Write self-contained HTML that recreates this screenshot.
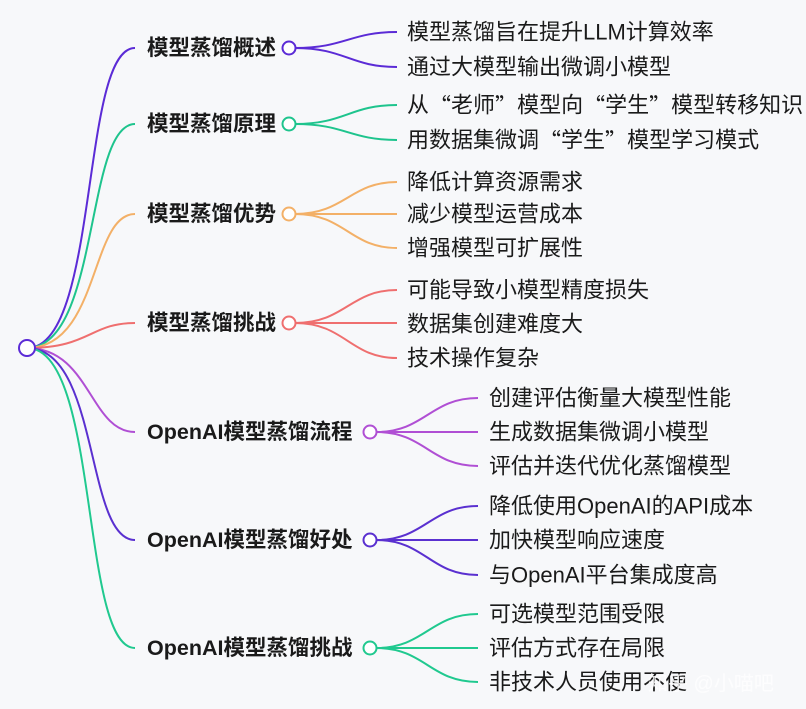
<!DOCTYPE html>
<html><head><meta charset="utf-8"><style>
html,body{margin:0;padding:0;background:#f7f8fa;}
svg{display:block}
text{font-family:"Liberation Sans","Noto Sans CJK SC",sans-serif;fill:#1a1a1a;dominant-baseline:central}
.b{font-weight:bold;font-size:21.5px}
.l{font-size:22px}
.q{font-family:"Noto Sans CJK SC",sans-serif}
path{fill:none;stroke-width:2}
circle{fill:#fff;stroke-width:2}
</style></head><body>
<svg width="806" height="709" viewBox="0 0 806 709">
<rect width="806" height="709" fill="#f7f8fa"/>
<path d="M27,348 C100,348 80,48 135,48" stroke="#5b2bd6"/>
<path d="M27,348 C100,348 85,124 135,124" stroke="#1ec48d"/>
<path d="M27,348 C100,348 90,214 135,214" stroke="#f3b067"/>
<path d="M27,348 C90,348 90,323 135,323" stroke="#ef6f6f"/>
<path d="M27,348 C90,348 90,432 135,432" stroke="#b04fd4"/>
<path d="M27,348 C100,348 85,540 135,540" stroke="#5a30d0"/>
<path d="M27,348 C100,348 80,648 135,648" stroke="#20c98f"/>
<circle cx="27" cy="348" r="8" stroke="#5b2bd6"/>

<g stroke="#5b2bd6">
<path d="M295,48 C345,48 350,32 397,32"/><path d="M295,48 C345,48 350,67 397,67"/>
<circle cx="289" cy="48" r="6.5"/></g>
<text class="b" x="147" y="48">模型蒸馏概述</text>
<text class="l" x="407" y="32">模型蒸馏旨在提升LLM计算效率</text>
<text class="l" x="407" y="67">通过大模型输出微调小模型</text>

<g stroke="#1ec48d">
<path d="M295,124 C345,124 350,105 397,105"/><path d="M295,124 C345,124 350,140 397,140"/>
<circle cx="289" cy="124" r="6.5"/></g>
<text class="b" x="147" y="124">模型蒸馏原理</text>
<text class="l" x="407" y="105">从<tspan class="q">“</tspan>老师<tspan class="q">”</tspan>模型向<tspan class="q">“</tspan>学生<tspan class="q">”</tspan>模型转移知识</text>
<text class="l" x="407" y="140">用数据集微调<tspan class="q">“</tspan>学生<tspan class="q">”</tspan>模型学习模式</text>

<g stroke="#f3b067">
<path d="M295,214 C345,214 350,182 397,182"/><path d="M295,214 L397,214"/><path d="M295,214 C345,214 350,248 397,248"/>
<circle cx="289" cy="214" r="6.5"/></g>
<text class="b" x="147" y="214">模型蒸馏优势</text>
<text class="l" x="407" y="182">降低计算资源需求</text>
<text class="l" x="407" y="214">减少模型运营成本</text>
<text class="l" x="407" y="248">增强模型可扩展性</text>

<g stroke="#ef6f6f">
<path d="M295,323 C345,323 350,290 397,290"/><path d="M295,323 L397,323"/><path d="M295,323 C345,323 350,358 397,358"/>
<circle cx="289" cy="323" r="6.5"/></g>
<text class="b" x="147" y="323">模型蒸馏挑战</text>
<text class="l" x="407" y="290">可能导致小模型精度损失</text>
<text class="l" x="407" y="324">数据集创建难度大</text>
<text class="l" x="407" y="358">技术操作复杂</text>

<g stroke="#b04fd4">
<path d="M376,432 C425,432 430,398 478,398"/><path d="M376,432 L478,432"/><path d="M376,432 C425,432 430,466 478,466"/>
<circle cx="370" cy="432" r="6.5"/></g>
<text class="b" x="147" y="432">OpenAI模型蒸馏流程</text>
<text class="l" x="489" y="398">创建评估衡量大模型性能</text>
<text class="l" x="489" y="432">生成数据集微调小模型</text>
<text class="l" x="489" y="466">评估并迭代优化蒸馏模型</text>

<g stroke="#5a30d0">
<path d="M376,540 C425,540 430,506 478,506"/><path d="M376,540 L478,540"/><path d="M376,540 C425,540 430,575 478,575"/>
<circle cx="370" cy="540" r="6.5"/></g>
<text class="b" x="147" y="540">OpenAI模型蒸馏好处</text>
<text class="l" x="489" y="506">降低使用OpenAI的API成本</text>
<text class="l" x="489" y="540">加快模型响应速度</text>
<text class="l" x="489" y="575">与OpenAI平台集成度高</text>

<g stroke="#20c98f">
<path d="M376,648 C425,648 430,614 478,614"/><path d="M376,648 L478,648"/><path d="M376,648 C425,648 430,682 478,682"/>
<circle cx="370" cy="648" r="6.5"/></g>
<text class="b" x="147" y="648">OpenAI模型蒸馏挑战</text>
<text class="l" x="489" y="614">可选模型范围受限</text>
<text class="l" x="489" y="648">评估方式存在局限</text>
<text class="l" x="489" y="682">非技术人员使用不便</text>
<text x="648" y="684" style="font-size:20px;fill:#fff;opacity:0.85">知乎 @小喵吧</text>
</svg>
</body></html>
